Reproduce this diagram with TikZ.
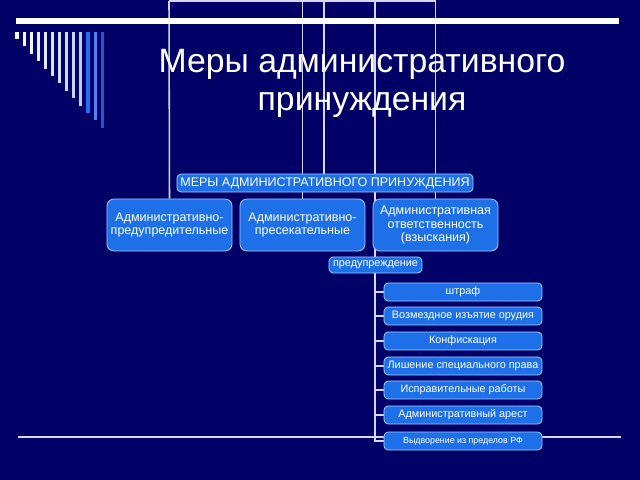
\documentclass[tikz,border=0pt]{standalone}
\usepackage{fontspec}
\setmainfont{Liberation Sans}
\usetikzlibrary{positioning}

\definecolor{slidebg}{RGB}{0,0,102}
\definecolor{boxfill}{RGB}{30,112,232}
\definecolor{boxline}{RGB}{160,200,255}
\definecolor{linkcol}{RGB}{215,215,245}
\definecolor{barlight}{RGB}{190,205,255}
\definecolor{barblue}{RGB}{40,110,245}

\pgfdeclarelayer{back}
\pgfdeclarelayer{links}
\pgfsetlayers{back,links,main}

\begin{document}
\begin{tikzpicture}[x=0.025cm, y=-0.025cm,
    measure/.style={draw=boxline, line width=0.6pt, fill=boxfill, text=white,
      align=center, inner sep=0pt, rounded corners=5pt,
      minimum width=3.125cm, minimum height=1.3cm,
      font=\fontsize{8.9}{9.8}\selectfont},
    penalty/.style={measure, rounded corners=3pt,
      minimum width=3.95cm, minimum height=0.45cm,
      font=\fontsize{7.7}{8}\selectfont},
    link/.style={draw=linkcol, line width=1.1pt}]

  \begin{pgfonlayer}{back}
    \fill[slidebg] (0,0) rectangle (640,480);
  \end{pgfonlayer}
  \useasboundingbox (0,0) rectangle (640,480);

  % title and rules
  \draw[white, line width=4.2pt] (16,21) -- (619,21);
  \draw[linkcol, line width=1.3pt] (18,437) -- (621,437);
  \foreach \i in {0,...,9} {
    \pgfmathsetmacro\q{int(11*\i)}
    \draw[barlight!\q!white, line width=2.2pt] (17+7.1*\i,32) -- (17+7.1*\i,39+7.4*\i);
  }
  \foreach \i/\c in {10/barblue, 11/barblue!85!white, 12/barblue!80!black} {
    \draw[\c, line width=2.2pt] (17+7.1*\i,32) -- (17+7.1*\i,39+7.4*\i);
  }
  \node[text=white, align=center, font=\fontsize{24}{27}\selectfont] (title)
    at (362,83) {Меры административного\\принуждения};

  % chart
  \node[measure, rounded corners=3pt, minimum width=7.4cm, minimum height=0.45cm,
    font=\fontsize{8.9}{9}\selectfont] (root) at (325,183)
    {МЕРЫ АДМИНИСТРАТИВНОГО ПРИНУЖДЕНИЯ};
  \node[measure] (prevent) at (169.5,225) {Административно-\\предупредительные};
  \node[measure] (stop) at (302.5,225) {Административно-\\пресекательные};
  \node[measure] (resp) at (435.5,225) {Административная\\ответственность\\(взыскания)};
  \node[penalty, minimum width=2.325cm, minimum height=0.4cm] (warn) at (375.5,265)
    {предупреждение};

  \node[penalty] (fine) at (463,292) {штраф};
  \node[penalty] (seize) at (463,316) {Возмездное изъятие орудия};
  \node[penalty] (confisc) at (463,341) {Конфискация};
  \node[penalty] (deprive) at (463,366) {Лишение специального права};
  \node[penalty] (labour) at (463,390) {Исправительные работы};
  \node[penalty] (arrest) at (463,415) {Административный арест};
  \node[penalty, font=\fontsize{6.3}{7}\selectfont] (expel) at (463,441)
    {Выдворение из пределов РФ};

  \coordinate (top1) at (169,1);
  \coordinate (top2) at (302.5,1);
  \coordinate (top3) at (324,1);
  \coordinate (top4) at (375,1);
  \coordinate (top5) at (435.5,1);

  \begin{pgfonlayer}{links}
    \draw[link] (top1) -- (top5);
    \draw[link] (top1) -- (prevent.north);
    \draw[link] (top2) -- (stop.north);
    \draw[link] (top3) -- (root.north -| top3);
    \draw[link] (top5) -- (resp.north);
    \draw[link] (top4) |- (expel.west);
    \foreach \p in {fine,seize,confisc,deprive,labour,arrest}
      \draw[link] (top4 |- \p.west) -- (\p.west);
  \end{pgfonlayer}
\end{tikzpicture}
\end{document}
